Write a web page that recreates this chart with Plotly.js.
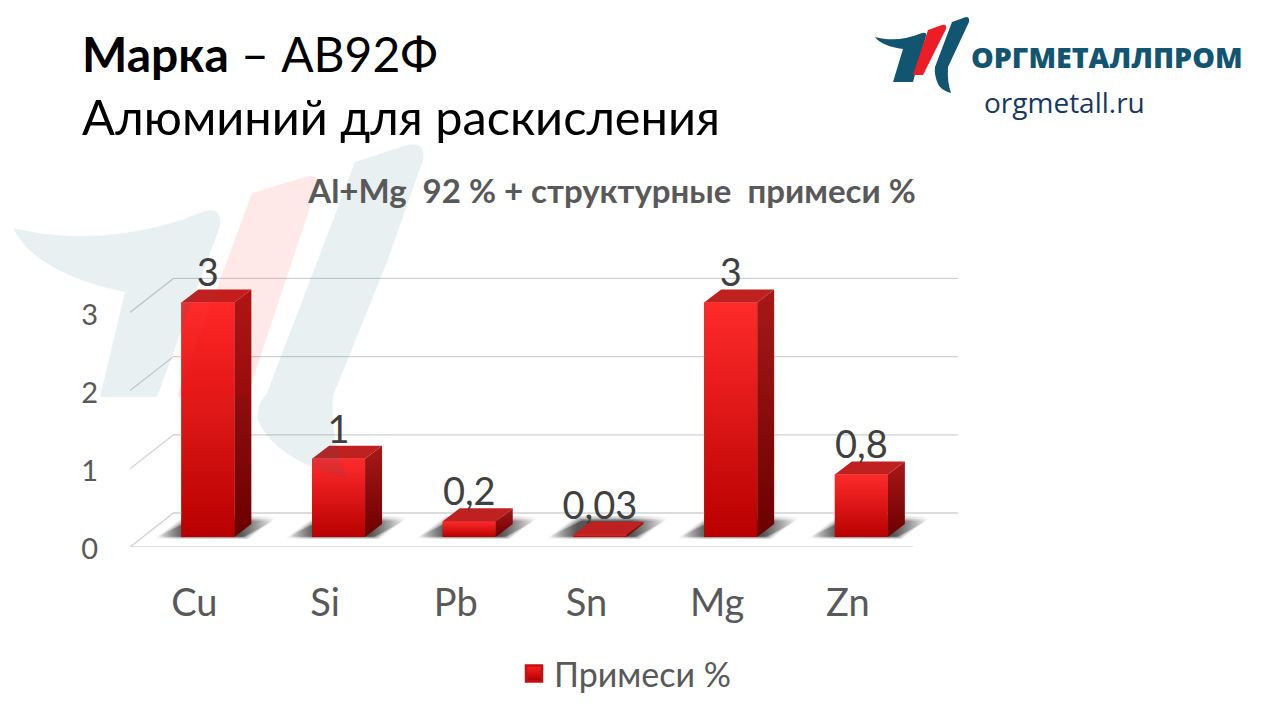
<!DOCTYPE html>
<html><head><meta charset="utf-8">
<script src="https://cdn.plot.ly/plotly-3.0.1.min.js"></script>
<style>html,body{margin:0;padding:0;background:#fff;overflow:hidden}</style>
</head><body><div id="chart" style="width:1280px;height:720px"></div>
<script>
const categories = ['Cu','Si','Pb','Sn','Mg','Zn'];
const values = [3,1,0.2,0.03,3,0.8];
const valueLabels = ['3','1','0,2','0,03','3','0,8'];
const yTicks = [0,1,2,3];
const seriesName = 'Примеси %';
const chartTitle = 'Al+Mg  92 % + структурные  примеси %';

const W=1280,H=720;
const L=130,R=958,T=200,B=547;
const ux=130.7, uy=78.2;            // pixels per unit
const xMin=-0.5, xMax=xMin+(R-L)/ux, yMax=(B-T)/uy;
const px=d=>d/ux, py=d=>d/uy;
// pseudo-3D geometry (in axis units)
const barW=px(53), barShift=px(12.5), barLift=py(10), depX=px(17), depY=py(13);
const wallX=px(43.5), wallY=py(34);
const xs=categories.map((_,i)=>i);

const traces=[];
// wall + floor gridlines
yTicks.forEach(v=>{
  traces.push({type:'scatter',mode:'lines',x:[xMin,xMin+wallX,xMax],y:[v,v+wallY,v+wallY],
    line:{color:'#cfd2d2',width:1.3},showlegend:false,hoverinfo:'skip'});
});
traces.push({type:'scatter',mode:'lines',x:[xMin,xMin+(913-130)/ux],y:[0,0],
  line:{color:'#d4d6d6',width:1.5},showlegend:false,hoverinfo:'skip'});
// floor shadows: soft outer layers and a darker core
xs.forEach(i=>{
  const c=i+barShift, l=c-barW/2, r=c+barW/2, b=barLift;
  [[4,0.14],[2.5,0.2],[1,0.3],[-0.5,0.6]].forEach(([g,a])=>{
    traces.push({type:'scatter',mode:'lines',fill:'toself',line:{width:0,color:'rgba(0,0,0,0)'},
      x:[l-px(24+g),r+px(10+g),r+px(40+g),l+px(8-g),l-px(24+g)],
      y:[b-py(g/2),b-py(g/2),b+py(17+g),b+py(17+g),b-py(g/2)],
      fillgradient:{type:'horizontal',colorscale:[[0,'rgba(60,60,60,0)'],[0.24,`rgba(45,45,45,${a})`],[0.7,`rgba(40,40,40,${a})`],[1,'rgba(90,90,90,0)']]},
      showlegend:false,hoverinfo:'skip'});
  });
});
// value-driven bars (base layer)
traces.push({type:'bar',x:xs,y:values,base:barLift,width:barW,offset:barShift-barW/2,
  marker:{color:'#d01010',line:{width:0}},name:seriesName,showlegend:false,hovertemplate:'%{y}<extra></extra>'});
// side + top + front faces
xs.forEach(i=>{
  const v=values[i], c=i+barShift, l=c-barW/2, r=c+barW/2, b=barLift, t=b+v;
  traces.push({type:'scatter',mode:'lines',fill:'toself',line:{width:0,color:'rgba(0,0,0,0)'},
    x:[r,r+depX,r+depX,r,r],y:[b,b+depY,t+depY,t,b],
    fillgradient:{type:'vertical',colorscale:[[0,'#6c0000'],[1,'#a81818']]},
    showlegend:false,hoverinfo:'skip'});
  traces.push({type:'scatter',mode:'lines',fill:'toself',line:{width:0,color:'rgba(0,0,0,0)'},
    x:[l,r,r+depX,l+depX,l],y:[t,t,t+depY,t+depY,t],fillcolor:'#bf2020',
    showlegend:false,hoverinfo:'skip'});
  traces.push({type:'scatter',mode:'lines',fill:'toself',line:{width:0,color:'rgba(0,0,0,0)'},
    x:[l,r,r,l,l],y:[b,b,t,t,b],
    fillgradient:{type:'vertical',colorscale:[[0,'#b80000'],[1,'#ff2b2b']]},
    showlegend:false,hoverinfo:'skip'});
});
// value labels
traces.push({type:'scatter',mode:'text',x:xs.map(i=>i+barShift),y:values.map(v=>v+barLift+py(6.5)),
  text:valueLabels,textposition:'top center',textfont:{family:'Lato, "Open Sans", sans-serif',size:38,color:'#404040'},
  showlegend:false,hoverinfo:'skip',cliponaxis:false});
// legend entry
traces.push({type:'scatter',mode:'markers',x:[null],y:[null],name:seriesName,showlegend:true,
  marker:{symbol:'square',size:16,color:'#ff2020',gradient:{type:'vertical',color:'#a80000'},line:{width:2.5,color:'#c81010'}}});

// helper: page-pixel path -> paper coords
function P(str){
  return str.replace(/(-?[\d.]+),(-?[\d.]+)/g,(m,a,b)=>((+a)/W).toFixed(5)+','+(1-(+b)/H).toFixed(5));
}
const tailBig='M13,228 C60,240 130,242 205,211 Q222,207 220,226 L157,397 L100,397 L125,292 C75,282 30,262 13,228 Z';
const redBig='M252,193 L305,177 Q320,173 317,186 L247,397 L177,397 Z';
const blueBig='M355,162 L407,145 Q426,141 423,160 L387,262 L333,396 Q330,440 347,478 C310,470 270,450 258,420 Q256,405 267,393 L317,262 Z';
const tailLogo='M875,37 C890,41 905,40 922,33 Q927,32 926,36 L913,82 L893,82 L903,49 C890,47 880,44 875,37 Z';
const redLogo='M928,30 L942,25 Q947,24 946,29 L923,75 L913,75 Z';
const blueLogo='M952,22 L966,17 Q970,17 969,22 L948,67 Q947,82 951,93 C944,91 940,88 938,84 Q934,75 935,67 Z';
const mk=(path,fill,op)=>({type:'path',xref:'paper',yref:'paper',path:P(path),fillcolor:fill,opacity:op,line:{width:0},layer:op<1?'above':'below'});
const shapes=[mk(tailBig,'#1b6b80',0.1),mk(redBig,'#ff0000',0.09),mk(blueBig,'#1b6b80',0.1),
  mk(tailLogo,'#115571',1),mk(redLogo,'#ee1c25',1),mk(blueLogo,'#115571',1)];

const cyr='Lato, "Open Sans", sans-serif';
const ann=(text,x,y,size,color,family,weight)=>({text,xref:'paper',yref:'paper',x:x/W,y:1-y/H,xanchor:'left',yanchor:'middle',showarrow:false,font:{size,color,family:family||cyr,weight:weight||'normal'}});
const layout={
  width:W,height:H,margin:{l:0,r:0,t:0,b:0},paper_bgcolor:'#fff',plot_bgcolor:'rgba(0,0,0,0)',
  title:{text:'<b>'+chartTitle+'</b>',xref:'paper',yref:'paper',x:612/W,xanchor:'center',y:1-191/H,yanchor:'middle',font:{family:cyr,size:33,color:'#595959'}},
  xaxis:{domain:[L/W,R/W],range:[xMin,xMax],tickvals:xs,ticktext:categories,showgrid:false,zeroline:false,showline:false,ticks:'',
    ticklabelstandoff:30,ticklabelshift:-1,tickfont:{family:cyr,size:38,color:'#595959'},fixedrange:true},
  yaxis:{domain:[1-B/H,1-T/H],range:[0,yMax],tickvals:yTicks,ticktext:yTicks.map(String),showgrid:false,zeroline:false,showline:false,ticks:'',
    ticklabelstandoff:31,ticklabelshift:2,tickfont:{family:cyr,size:29,color:'#595959'},fixedrange:true},
  showlegend:true,
  legend:{x:514/W,y:1-674/H,xanchor:'left',yanchor:'middle',font:{family:cyr,size:34,color:'#595959'},bgcolor:'rgba(0,0,0,0)',itemwidth:30},
  shapes,
  annotations:[
    ann('<b>Марка</b> – АВ92Ф',80,54,48,'#000'),
    ann('Алюминий для раскисления',80,116,48.7,'#000'),
    ann('ОРГМЕТАЛЛПРОМ',969,57,28.6,'#115571','"Open Sans", sans-serif',800),
    ann('orgmetall.ru',982,102,28,'#17395f','"Open Sans", sans-serif')
  ]
};
Plotly.newPlot('chart',traces,layout,{displayModeBar:false,staticPlot:true});
</script></body></html>
